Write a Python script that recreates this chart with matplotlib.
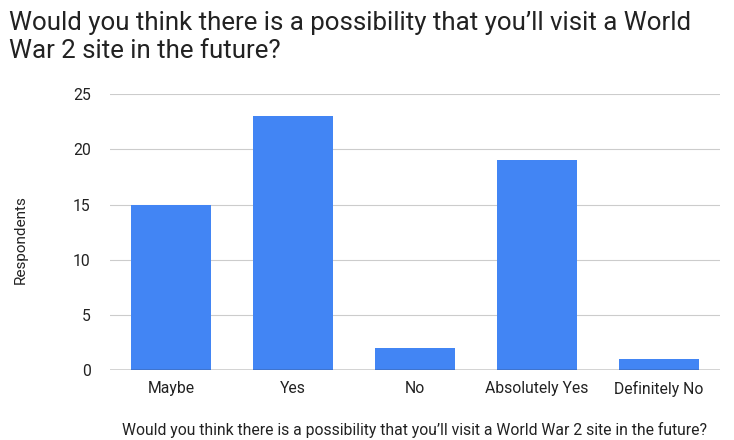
import matplotlib.pyplot as plt
import numpy as np

plt.rcParams['font.family'] = ['Roboto', 'DejaVu Sans']

categories = ["Maybe", "Yes", "No", "Absolutely Yes", "Definitely No"]
respondents = [15, 23, 2, 19, 1]
yticks = [0, 5, 10, 15, 20, 25]
question = "Would you think there is a possibility that you\u2019ll visit a World War 2 site in the future?"

fig = plt.figure(figsize=(7.34, 4.4), dpi=100)
ax = fig.add_axes([0.150, 0.159, 0.831, 0.627])

x = np.arange(len(categories))
ax.bar(x, respondents, width=0.65, color="#4285F4", zorder=3)

ax.set_xlim(-0.5, len(categories) - 0.5)
ax.set_ylim(0, 25)
ax.set_yticks(yticks)
ax.set_xticks(x)
ax.set_xticklabels(categories)
ax.grid(axis="y", color="#cccccc", linewidth=0.8, zorder=0)
ax.axhline(0, color="#333333", linewidth=1, zorder=4)
for s in ax.spines.values():
    s.set_visible(False)
ax.tick_params(length=0, labelsize=11.3, colors="#222222", pad=8)
ax.tick_params(axis="y", pad=14)

fig.text(21 / 734, 1 - 240 / 440, "Respondents", rotation=90, fontsize=11, color="#222222",
         ha="center", va="center")
fig.text(415 / 734, 1 - 430 / 440, question, fontsize=11.3, color="#222222",
         ha="center", va="center")

fig.text(0.012, 0.975, "Would you think there is a possibility that you\u2019ll visit a World\nWar 2 site in the future?",
         fontsize=18.6, color="#222222", va="top", ha="left", linespacing=1.2)

fig.savefig("out.png", dpi=100)
